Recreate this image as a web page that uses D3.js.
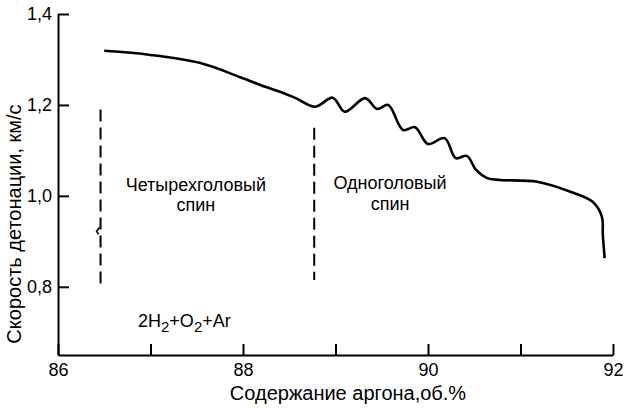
<!DOCTYPE html>
<html>
<head>
<meta charset="utf-8">
<script src="https://cdn.jsdelivr.net/npm/d3@7"></script>
<style>
  html, body { margin: 0; padding: 0; background: #fff; }
  svg { display: block; }
  text { font-family: "Liberation Sans", Arial, sans-serif; fill: #000; }
</style>
</head>
<body>
<svg id="chart" width="624" height="408"></svg>
<script>
// Argon content, vol.% (x) and detonation velocity, km/s (y)
const argon = [86.50, 87.00, 87.54, 87.97, 88.24, 88.40, 88.57, 88.78, 88.97, 89.10, 89.32, 89.45, 89.57,
               89.73, 89.86, 90.00, 90.18, 90.30, 90.42, 90.52, 90.64, 90.78, 91.18, 91.54, 91.78, 91.88, 91.89, 91.91];
const velocity = [1.319, 1.310, 1.292, 1.261, 1.240, 1.229, 1.215, 1.196, 1.216, 1.185, 1.215, 1.191, 1.200,
                  1.145, 1.151, 1.114, 1.127, 1.083, 1.088, 1.057, 1.039, 1.035, 1.031, 1.009, 0.987, 0.954, 0.914, 0.863];

// Spin-mode boundaries (vertical dashed lines): [argon %, from velocity, to velocity]
const boundaries = [[86.46, 0.80, 1.19], [88.77, 0.815, 1.15]];

const xTickValues = [86, 87, 88, 89, 90, 91, 92];
const xTickLabels = { 86: "86", 88: "88", 90: "90", 92: "92" };
const yTickValues = [0.8, 1.0, 1.2, 1.4];
const yTickLabels = ["0,8", "1,0", "1,2", "1,4"];

const svg = d3.select("#chart");
const x = d3.scaleLinear().domain([86, 92]).range([58, 613]);
const y = d3.scaleLinear().domain([0.65, 1.4]).range([355, 14]);

// Axes
const xAxis = d3.axisBottom(x)
  .tickValues(xTickValues)
  .tickSize(-11)
  .tickSizeOuter(0)
  .tickPadding(8)
  .tickFormat(d => xTickLabels[d] || "");
const gx = svg.append("g").attr("transform", `translate(0,${y(0.65)})`).call(xAxis);

const yAxis = d3.axisLeft(y)
  .tickValues(yTickValues)
  .tickSize(-11)
  .tickSizeOuter(0)
  .tickPadding(6)
  .tickFormat((d, i) => yTickLabels[i]);
const gy = svg.append("g").attr("transform", `translate(${x(86)},0)`).call(yAxis);

[gx, gy].forEach(g => {
  g.select(".domain").attr("stroke", "#000").attr("stroke-width", 2);
  g.selectAll(".tick line").attr("stroke", "#000").attr("stroke-width", 2);
  g.selectAll(".tick text").attr("font-size", 18).attr("font-family", "Liberation Sans, Arial, sans-serif");
});

// Boundaries between spin regimes
svg.append("g").selectAll("line").data(boundaries).join("line")
  .attr("x1", d => x(d[0])).attr("x2", d => x(d[0]))
  .attr("y1", d => y(d[2])).attr("y2", d => y(d[1]))
  .attr("stroke", "#000").attr("stroke-width", 2)
  .attr("stroke-dasharray", "12,6");

// Small mark beside the left boundary
const mx = x(boundaries[0][0]), my = y(0.92);
svg.append("path")
  .attr("d", `M${mx - 1},${my - 5} L${mx - 4},${my - 1} L${mx - 2},${my + 2}`)
  .attr("fill", "none").attr("stroke", "#000").attr("stroke-width", 1.5);

// Detonation velocity curve
const line = d3.line()
  .x((d, i) => x(argon[i]))
  .y(d => y(d))
  .curve(d3.curveCatmullRom.alpha(0.5));
svg.append("path")
  .attr("d", line(velocity))
  .attr("fill", "none")
  .attr("stroke", "#000")
  .attr("stroke-width", 2.6)
  .attr("stroke-linejoin", "round");

// Region captions
const captions = [
  { text: "Четырехголовый", cx: 87.49, v: 1.01 },
  { text: "спин", cx: 87.49, v: 0.966 },
  { text: "Одноголовый", cx: 89.59, v: 1.015 },
  { text: "спин", cx: 89.59, v: 0.97 }
];
svg.append("g").selectAll("text").data(captions).join("text")
  .attr("x", d => x(d.cx)).attr("y", d => y(d.v))
  .attr("text-anchor", "middle").attr("font-size", 18)
  .text(d => d.text);

// Mixture composition
const mix = svg.append("text").attr("x", 138).attr("y", 327).attr("font-size", 18);
mix.append("tspan").text("2H");
mix.append("tspan").attr("font-size", 15).attr("dy", 5).text("2");
mix.append("tspan").attr("dy", -5).text("+O");
mix.append("tspan").attr("font-size", 15).attr("dy", 5).text("2");
mix.append("tspan").attr("dy", -5).text("+Ar");

// Axis titles
svg.append("text")
  .attr("x", 348).attr("y", 400)
  .attr("text-anchor", "middle").attr("font-size", 20)
  .text("Содержание аргона,об.%");
svg.append("text")
  .attr("transform", "translate(21,224) rotate(-90)")
  .attr("text-anchor", "middle").attr("font-size", 20)
  .text("Скорость детонации, км/с");
</script>
</body>
</html>
